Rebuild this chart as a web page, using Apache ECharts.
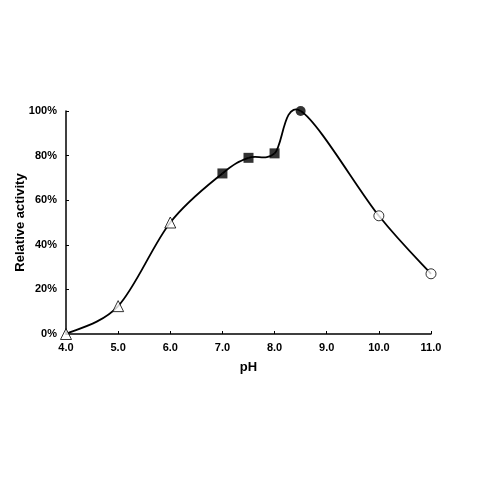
<!DOCTYPE html>
<html>
<head>
<meta charset="utf-8">
<script src="https://cdn.jsdelivr.net/npm/echarts@6/dist/echarts.min.js"></script>
<style>html,body{margin:0;padding:0;background:#fff}#c{width:480px;height:480px}</style>
</head>
<body>
<div id="c"></div>
<script>
// pH values and relative activity (fraction of max)
const phAll = [4.0, 5.0, 6.0, 7.0, 7.5, 8.0, 8.5, 10.0, 11.0];
const actAll = [0.0, 0.125, 0.50, 0.72, 0.79, 0.81, 1.00, 0.53, 0.27];
// marker groups
const triPh = [4.0, 5.0, 6.0];
const triAct = [0.0, 0.125, 0.50];
const sqPh = [7.0, 7.5, 8.0];
const sqAct = [0.72, 0.79, 0.81];
const dotPh = [8.5];
const dotAct = [1.00];
const ringPh = [10.0, 11.0];
const ringAct = [0.53, 0.27];
const xTicks = [4, 5, 6, 7, 8, 9, 10, 11];
const yTicks = [0, 0.2, 0.4, 0.6, 0.8, 1.0];

const zip = (a, b) => a.map((v, i) => [v, b[i]]);
const font = 'Liberation Sans, Arial, sans-serif';
const chart = echarts.init(document.getElementById('c'));

// smoothed (Catmull-Rom style) curve through the data, positioned by the axes
function renderSegment(params, api) {
  const i = params.dataIndex;
  const n = phAll.length;
  if (i >= n - 1) return null;
  const P = j => {
    const k = Math.max(0, Math.min(n - 1, j));
    return api.coord([phAll[k], actAll[k]]);
  };
  const p0 = P(i - 1), p1 = P(i), p2 = P(i + 1), p3 = P(i + 2);
  const t = 6;
  return {
    type: 'bezierCurve',
    shape: {
      x1: p1[0], y1: p1[1], x2: p2[0], y2: p2[1],
      cpx1: p1[0] + (p2[0] - p0[0]) / t, cpy1: p1[1] + (p2[1] - p0[1]) / t,
      cpx2: p2[0] - (p3[0] - p1[0]) / t, cpy2: p2[1] - (p3[1] - p1[1]) / t
    },
    style: {stroke: '#000', lineWidth: 1.8, fill: null}
  };
}

chart.setOption({
  animation: false,
  backgroundColor: '#fff',
  grid: {left: 66, right: 49, top: 111, bottom: 146, containLabel: false, outerBoundsMode: 'none'},
  xAxis: {
    type: 'value', min: 4, max: 11, interval: 1,
    name: 'pH', nameLocation: 'middle', nameGap: 27, nameMoveOverlap: false,
    nameTextStyle: {fontFamily: font, fontWeight: 'bold', fontSize: 13, color: '#000'},
    axisLine: {show: true, lineStyle: {color: '#000', width: 1.5}},
    axisTick: {show: true, inside: true, length: 3, lineStyle: {color: '#000'}},
    axisLabel: {formatter: v => v.toFixed(1), fontFamily: font, fontWeight: 'bold', fontSize: 11, color: '#000', margin: 8},
    splitLine: {show: false}
  },
  yAxis: {
    type: 'value', min: 0, max: 1, interval: 0.2,
    name: 'Relative activity', nameLocation: 'middle', nameGap: 39, nameRotate: 90, nameMoveOverlap: false,
    nameTextStyle: {fontFamily: font, fontWeight: 'bold', fontSize: 13, color: '#000'},
    axisLine: {show: true, lineStyle: {color: '#000', width: 1.5}},
    axisTick: {show: true, inside: true, length: 3, lineStyle: {color: '#000'}},
    axisLabel: {formatter: v => Math.round(v * 100) + '%', fontFamily: font, fontWeight: 'bold', fontSize: 11, color: '#000', margin: 9},
    splitLine: {show: false}
  },
  series: [
    {type: 'custom', data: zip(phAll, actAll), encode: {x: 0, y: 1},
     renderItem: renderSegment, clip: false, z: 1, silent: true},
    {type: 'scatter', data: zip(triPh, triAct), symbol: 'triangle', symbolSize: 11,
     itemStyle: {color: '#fff', borderColor: '#000', borderWidth: 1}, z: 3},
    {type: 'scatter', data: zip(sqPh, sqAct), symbol: 'rect', symbolSize: 10,
     itemStyle: {color: '#000'}, z: 3},
    {type: 'scatter', data: zip(dotPh, dotAct), symbol: 'circle', symbolSize: 10,
     itemStyle: {color: '#000'}, z: 3},
    {type: 'scatter', data: zip(ringPh, ringAct), symbol: 'circle', symbolSize: 10,
     itemStyle: {color: '#fff', borderColor: '#000', borderWidth: 1}, z: 3}
  ]
});
</script>
</body>
</html>
